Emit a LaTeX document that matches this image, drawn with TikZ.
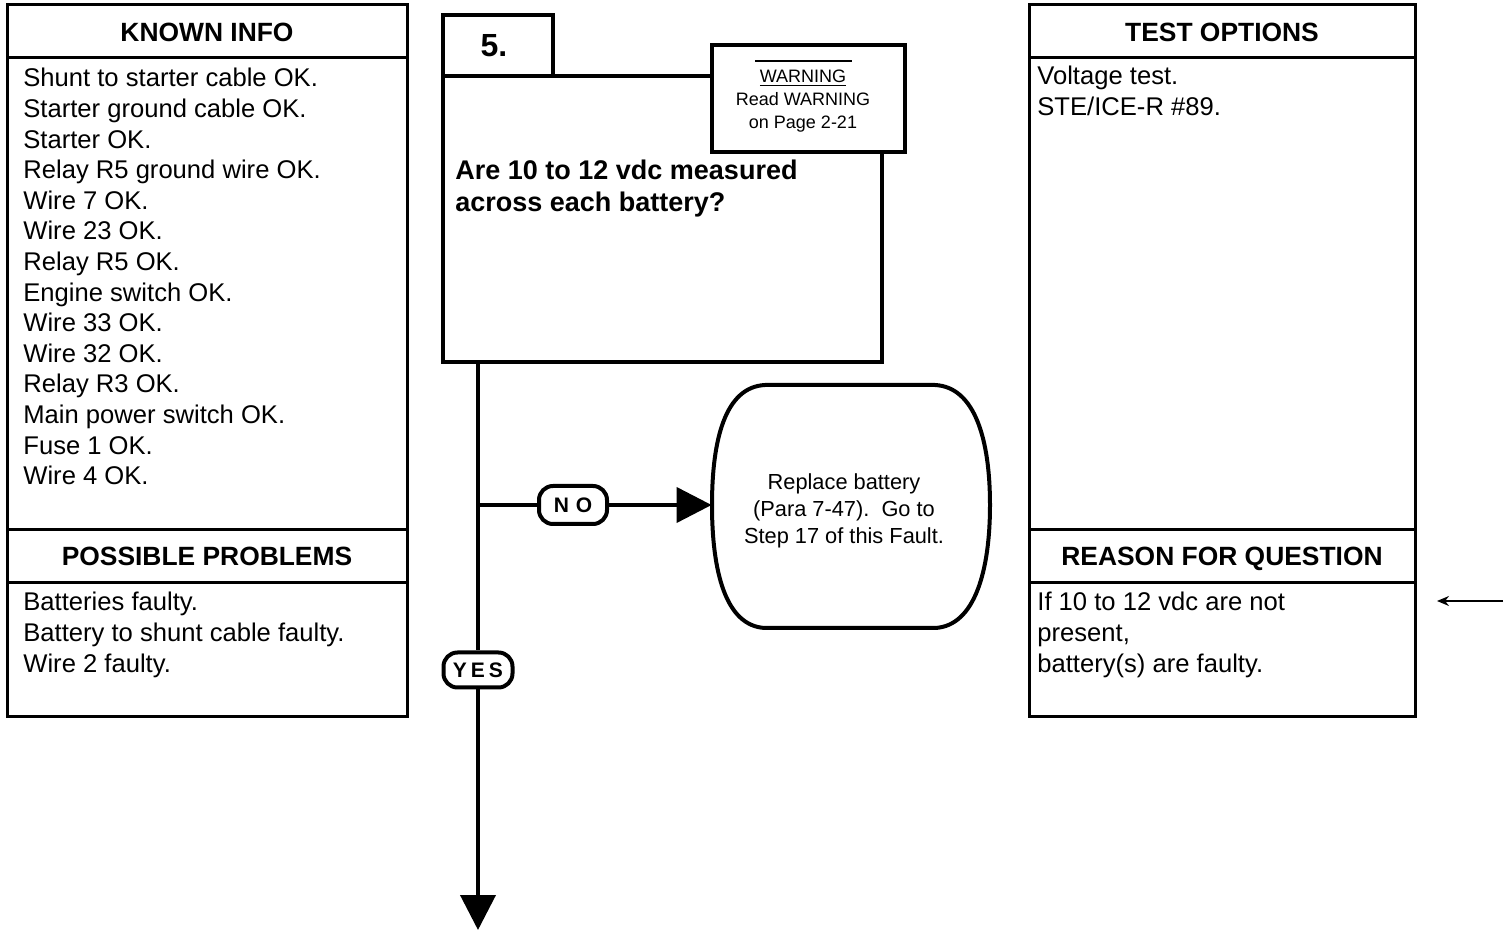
\documentclass[tikz,border=0pt]{standalone}
\usepackage{fontspec}
\setmainfont{Liberation Sans}
\usetikzlibrary{arrows.meta,positioning,calc}

\begin{document}
\begin{tikzpicture}[x=0.5pt,y=-0.5pt,
  panel/.style={line width=1.5pt},
  hdr/.style={anchor=base, font=\fontsize{13.2}{15}\selectfont\bfseries},
  txt/.style={anchor=north west, inner sep=0pt, align=left, font=\fontsize{12.8}{15.3}\selectfont},
  stepbox/.style={draw, line width=2pt, rectangle, inner sep=0pt},
  pill/.style={draw, line width=2pt, rounded corners=7pt, inner sep=0pt, font=\fontsize{10.5}{11}\selectfont\bfseries},
  flow/.style={line width=2pt},
  flowarr/.style={line width=2pt, -{Triangle[length=17.5pt,width=17.5pt]}},
  ptr/.style={line width=0.8pt, -{Stealth[length=6pt,width=5pt]}}
]
  \useasboundingbox (0,0) rectangle (1512,930);

  % left panel
  \draw[panel] (7,5) rectangle (407,717);
  \draw[panel] (7,58) -- (407,58) (7,530) -- (407,530) (7,583) -- (407,583);
  \node[hdr] (kihdr) at (207,42) {KNOWN INFO};
  \node[txt] (kitxt) at (23,68) {Shunt to starter cable OK.\\Starter ground cable OK.\\Starter OK.\\Relay R5 ground wire OK.\\Wire 7 OK.\\Wire 23 OK.\\Relay R5 OK.\\Engine switch OK.\\Wire 33 OK.\\Wire 32 OK.\\Relay R3 OK.\\Main power switch OK.\\Fuse 1 OK.\\Wire 4 OK.};
  \node[hdr] (pphdr) at (207,566) {POSSIBLE PROBLEMS};
  \node[txt] (pptxt) at (23,592) {Batteries faulty.\\Battery to shunt cable faulty.\\Wire 2 faulty.};

  % right panel
  \draw[panel] (1029,5) rectangle (1415,717);
  \draw[panel] (1029,58) -- (1415,58) (1029,530) -- (1415,530) (1029,583) -- (1415,583);
  \node[hdr] (tohdr) at (1222,42) {TEST OPTIONS};
  \node[txt] (totxt) at (1037,66) {Voltage test.\\STE/ICE-R \#89.};
  \node[hdr] (rqhdr) at (1222,566) {REASON FOR QUESTION};
  \node[txt] (rqtxt) at (1037,592) {If 10 to 12 vdc are not\\present,\\battery(s) are faulty.};
  \coordinate (rqa) at (1503,601);
  \coordinate (rqb) at (1437,601);
  \draw[ptr] (rqa) -- (rqb);

  % step 5
  \node[stepbox, minimum width=219.5pt, minimum height=143pt] (q) at (662.5,219) {};
  \node[stepbox, minimum width=55pt, minimum height=30.5pt, font=\fontsize{16}{18}\selectfont\bfseries] (num) at (498,45.5) {\hspace{-4pt}5.};
  \node[stepbox, fill=white, minimum width=96.5pt, minimum height=53.5pt] (warn) at (808.5,98.5) {};
  \node[font=\fontsize{9}{11.5}\selectfont, align=center] (warntxt) at (803,101) {\underline{WARNING}\\Read WARNING\\on Page 2-21};
  \draw[line width=0.8pt] (755,61) -- (852,61);
  \node[anchor=north west, inner sep=0pt, align=left, font=\fontsize{13.5}{16}\selectfont\bfseries] (qtxt) at (455,160) {Are 10 to 12 vdc measured\\across each battery?};

  % NO branch
  \node[minimum width=139pt, minimum height=121.5pt, inner sep=0pt] (fix) at (851,505) {};
  \draw[line width=2pt] (765,385) -- (935,385) .. controls (975,387) and (990,440) .. (990,505) .. controls (990,570) and (975,626) .. (935,628) -- (765,628) .. controls (725,626) and (712,570) .. (712,505) .. controls (712,440) and (725,387) .. (765,385) -- cycle;
  \node[align=center, font=\fontsize{10.9}{13.4}\selectfont] (fixtxt) at (844,511) {Replace battery\\(Para 7-47).~~Go to\\Step 17 of this Fault.};
  \node[pill, minimum width=34pt, minimum height=19pt] (no) at (573,505) {N\hspace{3.5pt}O};
  \node[pill, minimum width=34.5pt, minimum height=17.5pt] (yes) at (478,670) {Y\hspace{2pt}E\hspace{2pt}S};

  \coordinate (drop) at (478,362);
  \coordinate (br) at (478,505);
  \coordinate (down) at (478,930);
  \draw[flow] (drop) -- (yes);
  \draw[flow] (br) -- (no);
  \draw[flowarr] (no) -- (fix.west);
  \draw[flowarr] (yes) -- (down);
\end{tikzpicture}
\end{document}
